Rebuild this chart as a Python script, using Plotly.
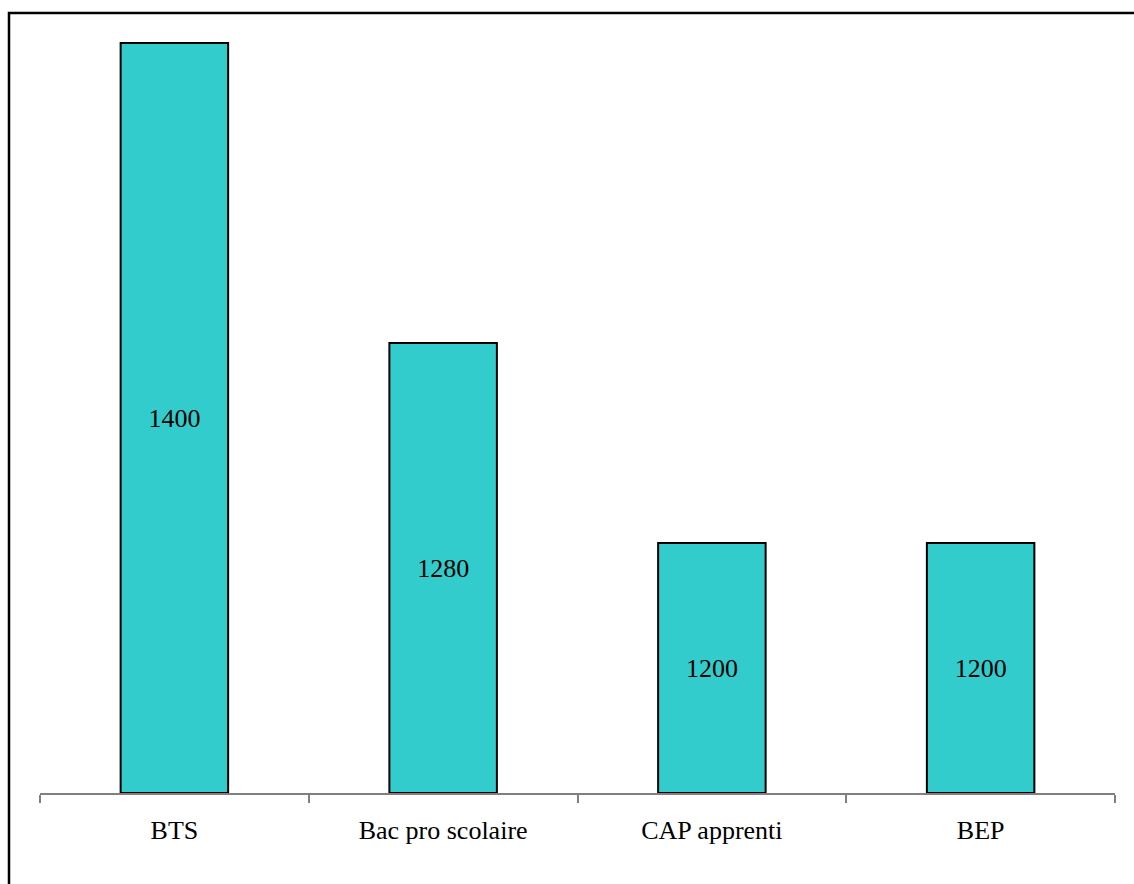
import plotly.graph_objects as go

categories = ["BTS", "Bac pro scolaire", "CAP apprenti", "BEP"]
values = [1400, 1280, 1200, 1200]
axis_base = 1100

SERIF = "Times New Roman, Liberation Serif, Tinos, DejaVu Serif, serif"

W, H = 1134, 884
L, R, T, B = 40, 19, 41, 91
plot_h = H - T - B
ymax = axis_base + plot_h / 2.5

fig = go.Figure(
    go.Bar(
        x=categories,
        y=[v - axis_base for v in values],
        base=axis_base,
        text=[str(v) for v in values],
        textposition="inside",
        insidetextanchor="middle",
        textfont=dict(family=SERIF, size=26, color="black"),
        marker=dict(color="#33CCCC", line=dict(color="black", width=2)),
        hoverinfo="x+text",
    )
)

fig.update_layout(
    width=W,
    height=H,
    margin=dict(l=L, r=R, t=T, b=B),
    paper_bgcolor="white",
    plot_bgcolor="white",
    bargap=0.6,
    showlegend=False,
    font=dict(family=SERIF, size=26, color="black"),
    xaxis=dict(
        type="category",
        showline=True,
        linecolor="#808080",
        linewidth=1.5,
        ticks="outside",
        tickson="boundaries",
        ticklen=8,
        tickcolor="#808080",
        tickwidth=1.5,
        showgrid=False,
        tickfont=dict(family=SERIF, size=26, color="black"),
        ticklabelstandoff=13,
    ),
    yaxis=dict(range=[axis_base, ymax], visible=False, showgrid=False, zeroline=False),
    shapes=[
        dict(
            type="rect",
            xref="paper",
            yref="paper",
            x0=(9 - L) / (W - L - R),
            x1=(W + 10 - L) / (W - L - R),
            y0=(H - B - (H + 10)) / plot_h,
            y1=(H - B - 13) / plot_h,
            line=dict(color="black", width=2.5),
            fillcolor="rgba(0,0,0,0)",
            layer="above",
        )
    ],
)

fig.write_html("out.html")
